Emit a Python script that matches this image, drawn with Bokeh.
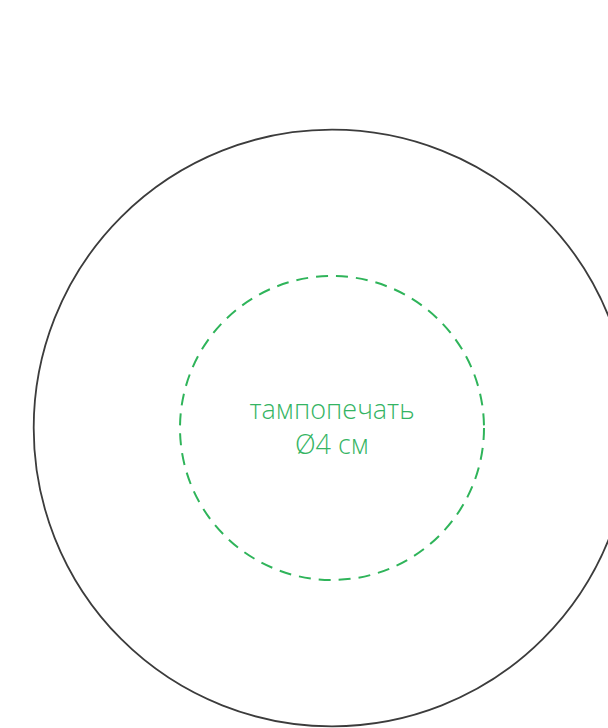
from bokeh.plotting import figure
from bokeh.models import Range1d, ColumnDataSource
from bokeh.core.properties import value
from bokeh.embed import file_html
from bokeh.resources import INLINE

# data
diameters_cm = [7.85, 4.0]          # outer disc, pad-print area
labels = ["тампопечать", "Ø4 см"]

px_per_cm = 76.0
cx, cy = 331.5, 427.5

W, H = 608, 728
p = figure(width=W, height=H, output_backend="svg", toolbar_location=None,
           x_range=Range1d(0, W), y_range=Range1d(H, 0),
           min_border=0, outline_line_color=None)
p.axis.visible = False
p.grid.visible = False
p.background_fill_color = "white"
p.border_fill_color = "white"

r_outer = diameters_cm[0] * px_per_cm / 2
r_inner = diameters_cm[1] * px_per_cm / 2

p.circle(x=[cx], y=[cy], radius=[r_outer], fill_color=None,
         line_color="#3c3c3c", line_width=1.8)
p.circle(x=[cx], y=[cy], radius=[r_inner], fill_color=None,
         line_color="#2fb45a", line_width=2, line_dash="12 8")

src = ColumnDataSource(dict(x=[cx, cx], y=[408, 443], t=labels))
p.text(x="x", y="y", text="t", source=src, text_align="center",
       text_baseline="alphabetic", text_color="#34b463",
       text_font=value("Open Sans Light, Open Sans"), text_font_size="27px")

open("out.html", "w").write(file_html(p, INLINE))
